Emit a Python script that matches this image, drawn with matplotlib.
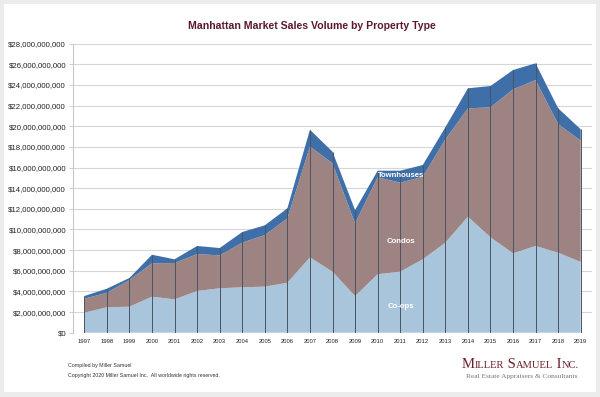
import matplotlib
matplotlib.use("Agg")
import matplotlib.pyplot as plt
import numpy as np
from matplotlib.offsetbox import TextArea, HPacker, AnnotationBbox
from matplotlib.patches import Rectangle
from matplotlib.ticker import FuncFormatter, MultipleLocator

years = [str(y) for y in range(1997, 2020)]
coops = [1.94, 2.46, 2.52, 3.49, 3.23, 4.04, 4.30, 4.40, 4.46, 4.84, 7.30,
         5.91, 3.55, 5.66, 5.91, 7.11, 8.72, 11.24, 9.24, 7.69, 8.40, 7.75, 6.85]
condo_tops = [3.29, 3.87, 5.10, 6.72, 6.75, 7.62, 7.49, 8.72, 9.46, 11.08, 18.04,
              16.41, 10.60, 15.05, 14.53, 15.11, 18.73, 21.73, 21.83, 23.57, 24.47, 20.21, 18.60]
total_tops = [3.55, 4.26, 5.30, 7.55, 7.11, 8.40, 8.20, 9.75, 10.40, 12.05, 19.66,
              17.53, 11.88, 15.69, 15.69, 16.24, 19.89, 23.67, 23.89, 25.44, 26.09, 21.73, 19.70]
condos = [round(c - a, 2) for c, a in zip(condo_tops, coops)]
townhouses = [round(t - c, 2) for t, c in zip(total_tops, condo_tops)]

B = 1e9
c_coop = "#a9c5db"
c_condo = "#9d8483"
c_town = "#3e6fa8"

fig = plt.figure(figsize=(6, 3.97), dpi=100)
fig.patch.set_facecolor("#ececec")
fig.patches.append(Rectangle((4/600, 5/397), 592/600, 388/397, transform=fig.transFigure,
                             facecolor="white", edgecolor="none", zorder=-5))

W, H = 600, 397
ax = fig.add_axes([73/W, (H-332.7)/H, (592-73)/W, (332.7-43.6)/H])
ax.set_zorder(2)
ax.set_facecolor("none")
x = np.arange(len(years))
ys = np.vstack([np.array(coops)*B, np.array(condos)*B, np.array(townhouses)*B])
ax.stackplot(x, ys, colors=[c_coop, c_condo, c_town], linewidth=0, zorder=2)
ax.vlines(x, 0, np.cumsum(ys, axis=0)[-1], color="#4b5462", lw=0.7, zorder=3)

ax.set_xlim(-0.5, len(years)-0.5)
ax.set_ylim(0, 28*B)
ax.yaxis.set_major_locator(MultipleLocator(2*B))
ax.yaxis.set_major_formatter(FuncFormatter(lambda v, p: "${:,.0f}".format(v)))
ax.grid(axis="y", color="#d6d6d6", lw=0.8, zorder=1)
ax.set_axisbelow(True)
ax.set_xticks(x)
ax.set_xticklabels(years)
for s in ["top", "right", "bottom"]:
    ax.spines[s].set_visible(False)
ax.spines["left"].set_color("#c8c8c8")
ax.spines["left"].set_linewidth(0.8)
ax.tick_params(axis="y", length=3, width=0.6, color="#c8c8c8", labelsize=5.6, pad=2, labelcolor="#222222")
ax.tick_params(axis="x", length=0, labelsize=4.2, pad=4.5, labelcolor="#222222")
for lab in ax.get_yticklabels() + ax.get_xticklabels():
    lab.set_family("Liberation Sans")

ax.text(14.05, 15.27*B, "Townhouses", color="white", fontweight="bold", fontsize=5.6,
        ha="center", va="center", family="Liberation Sans", zorder=5)
ax.text(14.05, 8.88*B, "Condos", color="white", fontweight="bold", fontsize=5.6,
        ha="center", va="center", family="Liberation Sans", zorder=5)
ax.text(14.05, 2.52*B, "Co-ops", color="white", fontweight="bold", fontsize=5.6,
        ha="center", va="center", family="Liberation Sans", zorder=5)

fig.text(312/W, 1-25.7/H, "Manhattan Market Sales Volume by Property Type", ha="center", va="center",
         fontsize=7.6, fontweight="bold", color="#5b1a2b", family="Liberation Sans")

fig.text(68/W, 1-365/H, "Compiled by Miller Samuel", fontsize=3.75, color="#333333",
         va="center", family="Liberation Sans")
fig.text(68/W, 1-375.7/H, "Copyright 2020 Miller Samuel Inc.  All worldwide rights reserved.",
         fontsize=3.75, color="#333333", va="center", family="Liberation Sans")

# Logo in small caps
big, small = 10.5, 7.6
lc = "#6b1e2a"
parts = [("M", big), ("ILLER", small), (" S", big), ("AMUEL", small), (" I", big), ("NC.", small)]
areas = [TextArea(t, textprops=dict(fontsize=s, color=lc, family="Liberation Serif")) for t, s in parts]
pack = HPacker(children=areas, align="baseline", pad=0, sep=0)
ab = AnnotationBbox(pack, (579/W, 1-364/H), xycoords="figure fraction", box_alignment=(1, 0.5),
                    frameon=False, pad=0)
fig.add_artist(ab)
fig.text(577/W, 1-376.7/H, "Real Estate Appraisers & Consultants", fontsize=5.3, color="#777777",
         ha="right", va="center", family="Liberation Serif")

fig.savefig("out.png", dpi=100, facecolor=fig.get_facecolor())
